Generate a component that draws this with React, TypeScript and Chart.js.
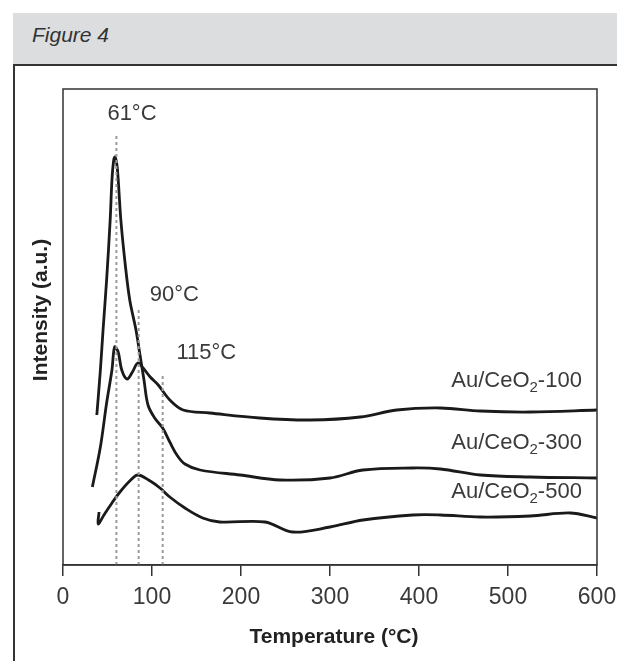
import React, { useEffect, useRef } from "react";
import { Chart, registerables } from "chart.js";

Chart.register(...registerables);

// Au/CeO2-100
const tempA = [33, 42, 49, 55, 58, 62, 66, 72, 78, 84, 90, 98, 107, 120, 135, 165, 221, 278, 334, 375, 424, 469, 525, 600];
const intA = [78, 118, 162, 195, 218, 213, 195, 186, 193, 202, 197, 188, 180, 165, 155, 152, 147, 145, 148, 155, 157, 154, 153, 155];

// Au/CeO2-300
const tempB = [38, 42, 45, 49, 53, 55, 57, 58.5, 61, 65, 70, 75, 82, 86.5, 91, 95.5, 103, 112, 120, 128, 137, 154, 199, 244, 300, 337, 393, 424, 469, 525, 600];
const intB = [150, 195, 235, 285, 345, 385, 405, 408, 397, 345, 300, 265, 235, 210, 185, 160, 147, 137, 123, 110, 101, 95, 90, 85, 87, 95, 97, 96, 90, 88, 87];

// Au/CeO2-500
const tempC = [40.5, 39.5, 46, 55, 64, 75, 84, 98, 109, 120, 137, 157, 176, 227, 258, 300, 337, 393, 424, 469, 525, 570, 600];
const intC = [53, 41, 50, 62, 73, 84, 90, 84, 77, 68, 57, 47, 43, 43, 33, 38, 45, 50, 50, 48, 49, 52, 47];

// peak marker lines (temperature, top of dotted line)
const peakTemps = [60, 85, 112];
const peakTops = [430, 257, 192];
const peakLabels = ["61°C", "90°C", "115°C"];
const peakLabelX = [77.5, 125, 161];
const peakLabelY = [451, 270, 212];

const seriesNames = ["-100", "-300", "-500"];
const seriesLabelY = [184, 122, 73];
const seriesLabelX = 583;

const xTicks = [0, 100, 200, 300, 400, 500, 600];

const toPts = (xs: number[], ys: number[]) => xs.map((x, i) => ({ x, y: ys[i] }));

const FONT = "'Liberation Sans', Arial, sans-serif";

const annot = {
  id: "annot",
  afterDatasetsDraw(chart: any) {
    const { ctx, chartArea: ca, scales } = chart;
    const xs = scales.x;
    const ys = scales.y;
    ctx.save();
    // frame
    ctx.strokeStyle = "#333";
    ctx.lineWidth = 1.5;
    ctx.strokeRect(ca.left, ca.top, ca.right - ca.left, ca.bottom - ca.top);

    ctx.fillStyle = "#3a3a3a";
    ctx.textBaseline = "middle";
    ctx.textAlign = "center";
    ctx.font = `22px ${FONT}`;
    peakLabels.forEach((t, i) => {
      ctx.fillText(t, xs.getPixelForValue(peakLabelX[i]), ys.getPixelForValue(peakLabelY[i]));
    });

    // series labels with subscript
    seriesNames.forEach((suffix, i) => {
      const right = xs.getPixelForValue(seriesLabelX);
      const y = ys.getPixelForValue(seriesLabelY[i]);
      ctx.font = `22px ${FONT}`;
      const w1 = ctx.measureText("Au/CeO").width;
      const w3 = ctx.measureText(suffix).width;
      ctx.font = `15px ${FONT}`;
      const w2 = ctx.measureText("2").width;
      let x = right - (w1 + w2 + w3);
      ctx.textAlign = "left";
      ctx.font = `22px ${FONT}`;
      ctx.fillText("Au/CeO", x, y);
      x += w1;
      ctx.font = `15px ${FONT}`;
      ctx.fillText("2", x, y + 7);
      x += w2;
      ctx.font = `22px ${FONT}`;
      ctx.fillText(suffix, x, y);
    });

    // axis titles
    ctx.textAlign = "center";
    ctx.fillStyle = "#222";
    ctx.font = `bold 21px ${FONT}`;
    ctx.fillText("Temperature (°C)", 334, 637);
    ctx.translate(41, 310);
    ctx.rotate(-Math.PI / 2);
    ctx.fillText("Intensity (a.u.)", 0, 0);
    ctx.restore();
  },
};

export default function App() {
  const ref = useRef<HTMLCanvasElement>(null);
  useEffect(() => {
    document.body.style.margin = "0";
    const curveStyle = {
      borderColor: "#1a1a1a",
      borderWidth: 2.8,
      pointRadius: 0,
      tension: 0.35,
      showLine: true,
      fill: false,
    };
    const peakSets = peakTemps.map((t, i) => ({
      data: [
        { x: t, y: 0 },
        { x: t, y: peakTops[i] },
      ],
      borderColor: "#9a9a9a",
      borderWidth: 2,
      borderDash: [3, 3],
      pointRadius: 0,
      showLine: true,
      tension: 0,
    }));
    const chart = new Chart(ref.current as HTMLCanvasElement, {
      type: "scatter",
      data: {
        datasets: [
          ...peakSets,
          { ...curveStyle, data: toPts(tempA, intA) },
          { ...curveStyle, data: toPts(tempB, intB) },
          { ...curveStyle, data: toPts(tempC, intC) },
        ],
      },
      options: {
        responsive: false,
        animation: false,
        layout: { padding: { left: 63, top: 89, right: 20, bottom: 0 } },
        plugins: { legend: { display: false }, tooltip: { enabled: false } },
        scales: {
          x: {
            type: "linear",
            min: 0,
            max: 600,
            afterFit(scale: any) {
              scale.height = 96;
              scale.paddingLeft = 0;
              scale.paddingRight = 0;
            },
            afterBuildTicks(scale: any) {
              scale.ticks = xTicks.map((v) => ({ value: v }));
            },
            grid: {
              drawOnChartArea: false,
              drawTicks: true,
              tickLength: 11,
              color: "#333",
              lineWidth: 1.5,
            },
            border: { display: true, color: "#333", width: 1.5 },
            ticks: {
              padding: 8,
              color: "#3a3a3a",
              font: { size: 23, family: FONT },
              maxRotation: 0,
            },
          },
          y: {
            type: "linear",
            min: 0,
            max: 476,
            display: false,
          },
        },
      },
      plugins: [annot],
    } as any);
    return () => chart.destroy();
  }, []);

  return (
    <div style={{ position: "relative", width: 617, height: 661, background: "#fff", overflow: "hidden" }}>
      <div
        style={{
          position: "absolute",
          left: 13,
          top: 13,
          width: 604,
          height: 51,
          background: "#dcdddf",
          borderBottom: "2px solid #333",
        }}
      />
      <div
        style={{
          position: "absolute",
          left: 32,
          top: 22,
          fontFamily: FONT,
          fontStyle: "italic",
          fontSize: 21,
          color: "#333",
          lineHeight: "26px",
        }}
      >
        Figure 4
      </div>
      <div style={{ position: "absolute", left: 13, top: 64, width: 2, height: 600, background: "#333" }} />
      <canvas ref={ref} width={617} height={661} style={{ position: "absolute", left: 0, top: 0 }} />
    </div>
  );
}
